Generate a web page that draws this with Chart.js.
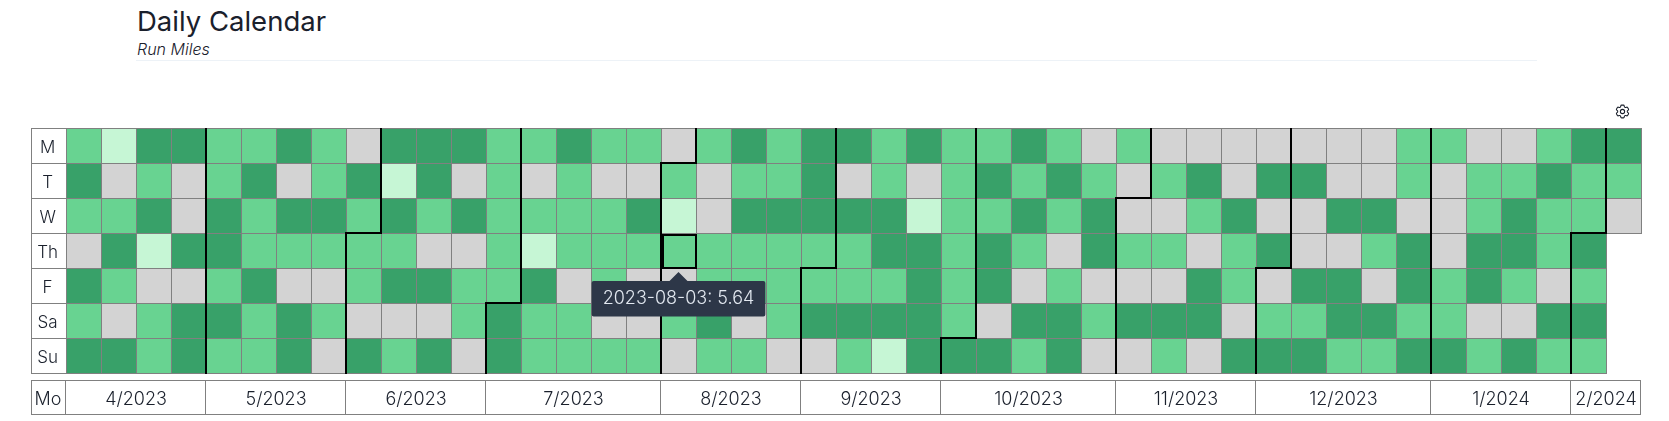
<!DOCTYPE html>
<html>
<head>
<meta charset="utf-8">
<title>Daily Calendar</title>
<script src="https://cdn.jsdelivr.net/npm/chart.js@4"></script>
<style>
  html, body { margin: 0; padding: 0; background: #fff; }
  body { width: 1669px; height: 421px; position: relative; overflow: hidden; font-family: Inter, sans-serif; color: #1a202c; }
  canvas { position: absolute; left: 0; top: 0; }
  .title { position: absolute; left: 137px; top: 4px; font-size: 27.5px; line-height: 34px; font-weight: 400; }
  .subtitle { position: absolute; left: 137px; top: 39px; font-size: 16px; line-height: 20px; font-style: italic; font-weight: 300; }
  .rule { position: absolute; left: 136px; top: 60px; width: 1401px; height: 1px; background: #edf2f7; }
  .gear { position: absolute; left: 1614px; top: 103px; width: 17px; height: 17px; }
</style>
</head>
<body>
<div class="title">Daily Calendar</div>
<div class="subtitle">Run Miles</div>
<div class="rule"></div>
<svg class="gear" viewBox="0 0 24 24" fill="none" stroke="#1a202c" stroke-width="1.5" stroke-linejoin="round">
  <path d="M9.594 3.94c.09-.542.56-.94 1.11-.94h2.593c.55 0 1.02.398 1.11.94l.213 1.281c.063.374.313.686.645.87.074.04.147.083.22.127.324.196.72.257 1.075.124l1.217-.456a1.125 1.125 0 011.37.49l1.296 2.247a1.125 1.125 0 01-.26 1.431l-1.003.827c-.293.24-.438.613-.431.992a6.759 6.759 0 010 .255c-.007.378.138.75.43.99l1.005.828c.424.35.534.954.26 1.43l-1.298 2.247a1.125 1.125 0 01-1.369.491l-1.217-.456c-.355-.133-.75-.072-1.076.124a6.57 6.57 0 01-.22.128c-.331.183-.581.495-.644.869l-.213 1.28c-.09.543-.56.941-1.11.941h-2.594c-.55 0-1.02-.398-1.11-.94l-.213-1.281c-.062-.374-.312-.686-.644-.87a6.52 6.52 0 01-.22-.127c-.325-.196-.72-.257-1.076-.124l-1.217.456a1.125 1.125 0 01-1.369-.49l-1.297-2.247a1.125 1.125 0 01.26-1.431l1.004-.827c.292-.24.437-.613.43-.992a6.932 6.932 0 010-.255c.007-.378-.138-.75-.43-.99l-1.004-.828a1.125 1.125 0 01-.26-1.43l1.297-2.247a1.125 1.125 0 011.37-.491l1.216.456c.356.133.751.072 1.076-.124.072-.044.146-.087.22-.128.332-.183.582-.495.644-.869l.214-1.281z"/>
  <circle cx="12" cy="12" r="3"/>
</svg>
<canvas id="calendar" width="1669" height="421"></canvas>
<script>
// weeks are labelled by their Monday
var weeks = ['2023-04-03','2023-04-10','2023-04-17','2023-04-24','2023-05-01','2023-05-08','2023-05-15','2023-05-22','2023-05-29',
  '2023-06-05','2023-06-12','2023-06-19','2023-06-26','2023-07-03','2023-07-10','2023-07-17','2023-07-24','2023-07-31',
  '2023-08-07','2023-08-14','2023-08-21','2023-08-28','2023-09-04','2023-09-11','2023-09-18','2023-09-25','2023-10-02',
  '2023-10-09','2023-10-16','2023-10-23','2023-10-30','2023-11-06','2023-11-13','2023-11-20','2023-11-27','2023-12-04',
  '2023-12-11','2023-12-18','2023-12-25','2024-01-01','2024-01-08','2024-01-15','2024-01-22','2024-01-29','2024-02-05'];
var dayLabels = ['M', 'T', 'W', 'Th', 'F', 'Sa', 'Su'];

// miles per day (only 08-03 is known exactly, from the tooltip)
var monMiles = [5,2,8,8,5,5,8,5,0,8,8,8,5,5,8,5,5,0,5,8,5,8,8,5,8,5,5,8,5,0,5,0,0,0,0,0,0,0,5,5,0,0,5,8,8];
var tueMiles = [8,0,5,0,5,8,0,5,8,2,8,0,5,0,5,0,0,5,0,5,5,8,0,5,0,5,8,5,8,5,0,5,8,0,8,8,0,0,5,0,5,5,8,5,5];
var wedMiles = [5,5,8,0,8,5,8,8,5,8,5,8,5,5,5,5,8,2,0,8,8,8,8,8,2,5,5,8,5,8,0,0,5,8,0,0,8,8,0,0,5,8,5,5,0];
var thuMiles = [0,8,2,8,8,5,5,5,5,5,0,0,5,2,5,5,5,5.64,5,5,5,5,5,8,8,5,8,5,0,8,5,5,0,5,8,0,0,5,8,0,8,8,5,8,null];
var friMiles = [8,5,0,0,5,8,0,0,5,8,8,5,5,8,0,5,0,0,5,5,5,5,5,5,8,5,8,0,5,0,0,0,8,5,0,8,8,0,8,5,8,5,0,5,null];
var satMiles = [5,0,5,8,8,5,8,5,0,0,0,5,8,5,5,0,0,5,8,0,5,8,8,8,8,5,0,8,8,5,8,8,8,0,5,5,8,8,5,5,0,0,8,8,null];
var sunMiles = [8,8,5,8,5,5,8,0,8,5,8,0,8,5,5,5,5,0,5,5,0,0,5,2,8,8,8,5,8,0,0,5,0,8,8,8,5,5,8,8,5,8,5,5,null];
var dayMiles = [monMiles, tueMiles, wedMiles, thuMiles, friMiles, satMiles, sunMiles];

var monthLabels = ['4/2023','5/2023','6/2023','7/2023','8/2023','9/2023','10/2023','11/2023','12/2023','1/2024','2/2024'];
var monthSpans = [4, 4, 4, 5, 4, 4, 5, 4, 5, 4, 2];
// week and weekday of each first-of-month
var monthStartWeek = [4, 8, 12, 17, 21, 25, 30, 34, 39, 43];
var monthStartDay = [0, 3, 5, 1, 4, 6, 2, 4, 0, 3];

var hoverDay = 3, hoverWeek = 17, hoverDate = '2023-08-03';

var LINE = '#808080', INK = '#1a202c', FONT = 'Inter, sans-serif';

function cellColor(m) {
  if (m === 0) return '#d3d3d3';
  if (m < 3) return '#c6f6d5';
  if (m < 7) return '#68d391';
  return '#38a169';
}

// month edges in week units, cumulated from the spans
var monthEdges = [0];
monthSpans.forEach(function (s, i) { monthEdges.push(monthEdges[i] + s); });

function hLine(ctx, x0, x1, y, color, w) { ctx.fillStyle = color; ctx.fillRect(x0, y, x1 - x0, w || 1); }
function vLine(ctx, x, y0, y1, color, w) { ctx.fillStyle = color; ctx.fillRect(x, y0, w || 1, y1 - y0); }

// frames around the day labels and the month row, right/bottom edges of the cells
var framePlugin = {
  id: 'frames',
  beforeDatasetsDraw: function (chart) {
    var ctx = chart.ctx, a = chart.chartArea, y = chart.scales.y, x2 = chart.scales.x2;
    // day label column
    vLine(ctx, 31, a.top, a.bottom + 1, LINE);
    dayLabels.forEach(function (_, i) { hLine(ctx, 31, a.left, Math.round(y.getPixelForValue(i)), LINE); });
    hLine(ctx, 31, a.left, a.bottom, LINE);
    // month row
    var top = a.bottom + 7, bot = a.bottom + 41, right = Math.round(x2.getPixelForValue(45)) - 1;
    hLine(ctx, 31, right + 1, top, LINE);
    hLine(ctx, 31, right + 1, bot, LINE);
    vLine(ctx, 31, top, bot, LINE);
    monthEdges.forEach(function (e) { vLine(ctx, Math.round(x2.getPixelForValue(e)) - 1, top, bot, LINE); });
    ctx.fillStyle = INK;
    ctx.font = '300 18px ' + FONT;
    ctx.textAlign = 'center';
    ctx.textBaseline = 'middle';
    ctx.fillText('Mo', 48, (top + bot) / 2 + 3);
  },
  afterDatasetsDraw: function (chart) {
    var ctx = chart.ctx, y = chart.scales.y, x2 = chart.scales.x2;
    function px(w) { return Math.round(x2.getPixelForValue(w)); }
    function py(d) { return Math.round(y.getPixelForValue(d)); }
    // closing edges where a cell has no neighbour
    dayMiles.forEach(function (miles, d) {
      miles.forEach(function (m, w) {
        if (m === null) return;
        if (w === weeks.length - 1 || miles[w + 1] === null) vLine(ctx, px(w + 1), py(d), py(d + 1) + 1, LINE);
        if (d === dayLabels.length - 1 || dayMiles[d + 1][w] === null) hLine(ctx, px(w), px(w + 1) + 1, py(d + 1), LINE);
      });
    });
    // month boundaries step through the first-of-month cell
    monthStartWeek.forEach(function (w, i) {
      var d = monthStartDay[i], x0 = px(w), x1 = px(w + 1);
      vLine(ctx, x0 - 1, py(d), py(7) + 1, '#000', 2);
      if (d > 0) {
        hLine(ctx, x0 - 1, x1 + 1, py(d) - 1, '#000', 2);
        vLine(ctx, x1 - 1, py(0), py(d) + 1, '#000', 2);
      }
    });
    // hovered cell
    ctx.strokeStyle = '#000';
    ctx.lineWidth = 2;
    ctx.strokeRect(px(hoverWeek) + 2, py(hoverDay) + 2, 33, 33);
  }
};

Chart.Tooltip.positioners.belowCell = function () {
  var chart = this.chart;
  return { x: chart.scales.x.getPixelForValue(hoverWeek), y: chart.scales.y.getPixelForValue(hoverDay + 1) + 4 };
};

var chart = new Chart(document.getElementById('calendar').getContext('2d'), {
  type: 'bar',
  plugins: [framePlugin],
  data: {
    labels: weeks,
    datasets: dayMiles.map(function (miles, d) {
      return {
        label: dayLabels[d],
        data: miles.map(function (m) { return m === null ? null : [d, d + 1]; }),
        backgroundColor: miles.map(function (m) { return m === null ? 'transparent' : cellColor(m); }),
        borderColor: LINE,
        borderWidth: { top: 1, left: 1, right: 0, bottom: 0 },
        borderSkipped: false,
        inflateAmount: 0,
        barPercentage: 1,
        categoryPercentage: 1,
        grouped: false
      };
    })
  },
  options: {
    responsive: false,
    animation: false,
    events: [],
    layout: { padding: { left: 31, top: 128, right: 28, bottom: 0 } },
    plugins: {
      legend: { display: false },
      title: { display: false },
      tooltip: {
        position: 'belowCell',
        xAlign: 'center',
        yAlign: 'top',
        caretSize: 9,
        caretPadding: 0,
        cornerRadius: 2,
        displayColors: false,
        backgroundColor: '#2d3748',
        bodyColor: '#e2e8f0',
        bodyFont: { family: FONT, size: 18, weight: '300' },
        padding: { x: 11, y: 7 },
        animation: false,
        callbacks: {
          title: function () { return ''; },
          label: function (item) { return hoverDate + ': ' + dayMiles[item.datasetIndex][item.dataIndex]; }
        }
      }
    },
    scales: {
      x: { display: false },
      x2: {
        type: 'linear', axis: 'x', position: 'bottom', min: 0, max: weeks.length, offset: false,
        grid: { display: false }, border: { display: false },
        afterFit: function (s) { s.height = 48; },
        afterBuildTicks: function (s) {
          s.ticks = monthLabels.map(function (_, i) { return { value: (monthEdges[i] + monthEdges[i + 1]) / 2 }; });
        },
        ticks: {
          autoSkip: false, maxRotation: 0, color: INK, padding: 8,
          font: { family: FONT, size: 18, weight: '300' },
          callback: function (v, i) { return monthLabels[i]; }
        }
      },
      y: {
        type: 'linear', min: 0, max: 7, reverse: true,
        grid: { display: false }, border: { display: false },
        afterFit: function (s) { s.width = 35; },
        afterBuildTicks: function (s) {
          s.ticks = dayLabels.map(function (_, i) { return { value: i + 0.58 }; });
        },
        ticks: {
          autoSkip: false, color: INK, padding: 0, crossAlign: 'center',
          font: { family: FONT, size: 17, weight: '300' },
          callback: function (v, i) { return dayLabels[i]; }
        }
      }
    }
  }
});

chart.tooltip.setActiveElements([{ datasetIndex: hoverDay, index: hoverWeek }], { x: 0, y: 0 });
chart.draw();
</script>
</body>
</html>
